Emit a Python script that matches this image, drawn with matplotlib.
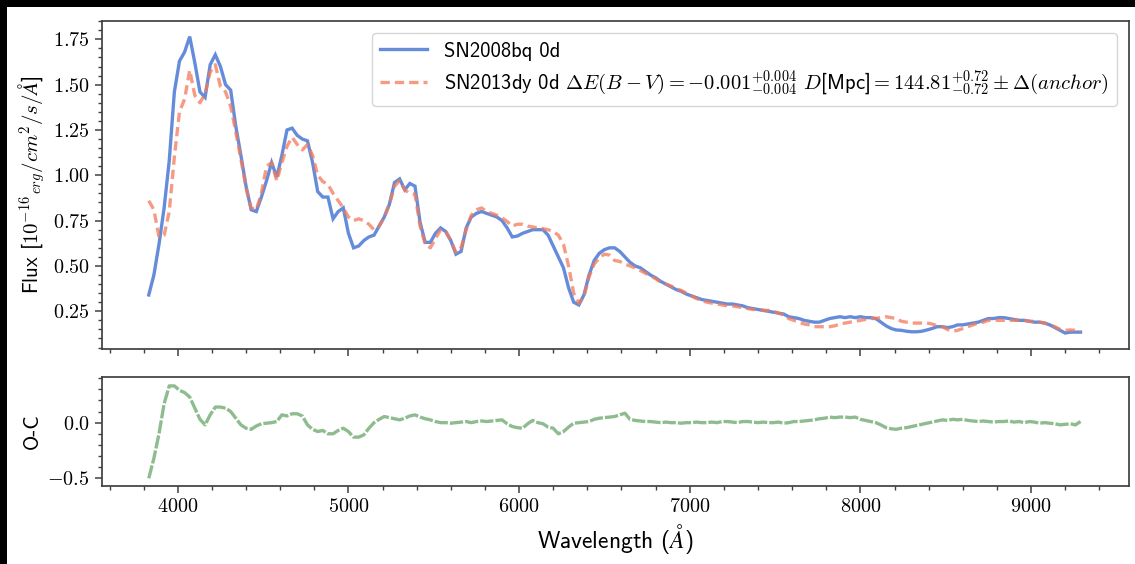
import numpy as np
import matplotlib
matplotlib.use("Agg")
import matplotlib.pyplot as plt
from matplotlib.ticker import MultipleLocator, FuncFormatter
from matplotlib.patches import Rectangle

# Spectra sampled on a regular wavelength grid (Angstrom)
wave_start = 3830
wave_step = 30

# SN2008bq 0d, flux in 1e-16 erg/cm^2/s/A
flux_2008bq = [
    0.34, 0.45, 0.62, 0.82, 1.08, 1.46, 1.63, 1.68, 1.765, 1.62,
    1.46, 1.43, 1.61, 1.665, 1.60, 1.50, 1.47, 1.27, 1.11, 0.94,
    0.81, 0.80, 0.88, 0.97, 1.07, 0.99, 1.11, 1.25, 1.26, 1.22,
    1.20, 1.19, 1.07, 0.91, 0.88, 0.88, 0.76, 0.80, 0.82, 0.68,
    0.60, 0.61, 0.64, 0.66, 0.67, 0.72, 0.77, 0.84, 0.96, 0.98,
    0.92, 0.955, 0.94, 0.74, 0.63, 0.63, 0.68, 0.71, 0.69, 0.64,
    0.565, 0.58, 0.71, 0.77, 0.79, 0.80, 0.79, 0.78, 0.77, 0.75,
    0.71, 0.66, 0.665, 0.68, 0.69, 0.70, 0.70, 0.70, 0.67, 0.61,
    0.55, 0.49, 0.38, 0.30, 0.285, 0.34, 0.45, 0.53, 0.57, 0.59,
    0.60, 0.60, 0.58, 0.55, 0.52, 0.50, 0.49, 0.47, 0.45, 0.435,
    0.415, 0.40, 0.385, 0.37, 0.36, 0.345, 0.335, 0.325, 0.315, 0.31,
    0.305, 0.30, 0.295, 0.29, 0.29, 0.285, 0.28, 0.27, 0.265, 0.26,
    0.255, 0.25, 0.245, 0.24, 0.235, 0.22, 0.215, 0.21, 0.20, 0.195,
    0.19, 0.19, 0.20, 0.21, 0.215, 0.22, 0.215, 0.22, 0.215, 0.22,
    0.215, 0.215, 0.21, 0.19, 0.17, 0.155, 0.147, 0.145, 0.14, 0.137,
    0.137, 0.14, 0.147, 0.155, 0.165, 0.165, 0.16, 0.165, 0.175, 0.175,
    0.18, 0.185, 0.19, 0.20, 0.21, 0.21, 0.215, 0.215, 0.21, 0.205,
    0.20, 0.20, 0.195, 0.19, 0.19, 0.185, 0.175, 0.16, 0.145, 0.13,
    0.135, 0.135, 0.135,
]

# SN2013dy 0d, fitted template
flux_2013dy = [
    0.86, 0.81, 0.66, 0.67, 0.80, 1.10, 1.35, 1.42, 1.58, 1.44,
    1.40, 1.45, 1.57, 1.61, 1.49, 1.46, 1.38, 1.24, 1.09, 0.93,
    0.82, 0.81, 0.90, 1.05, 1.07, 0.97, 1.07, 1.16, 1.21, 1.17,
    1.14, 1.17, 1.11, 1.00, 0.965, 0.95, 0.90, 0.86, 0.82, 0.77,
    0.75, 0.76, 0.75, 0.73, 0.70, 0.72, 0.77, 0.84, 0.94, 0.97,
    0.92, 0.90, 0.895, 0.72, 0.62, 0.60, 0.65, 0.70, 0.69, 0.64,
    0.575, 0.60, 0.70, 0.78, 0.81, 0.82, 0.80, 0.79, 0.78, 0.765,
    0.745, 0.72, 0.73, 0.73, 0.72, 0.715, 0.71, 0.705, 0.70, 0.69,
    0.67, 0.62, 0.50, 0.35, 0.295, 0.33, 0.44, 0.51, 0.545, 0.565,
    0.56, 0.53, 0.525, 0.51, 0.50, 0.49, 0.475, 0.46, 0.445, 0.43,
    0.41, 0.40, 0.39, 0.375, 0.365, 0.35, 0.335, 0.32, 0.31, 0.30,
    0.295, 0.29, 0.285, 0.28, 0.28, 0.275, 0.27, 0.265, 0.26, 0.26,
    0.255, 0.255, 0.25, 0.24, 0.23, 0.21, 0.20, 0.19, 0.18, 0.175,
    0.165, 0.165, 0.165, 0.165, 0.17, 0.18, 0.185, 0.19, 0.195, 0.20,
    0.205, 0.21, 0.21, 0.215, 0.22, 0.215, 0.21, 0.195, 0.19, 0.185,
    0.185, 0.185, 0.185, 0.18, 0.17, 0.165, 0.15, 0.14, 0.145, 0.155,
    0.165, 0.175, 0.185, 0.19, 0.20, 0.20, 0.20, 0.20, 0.20, 0.20,
    0.20, 0.20, 0.195, 0.195, 0.19, 0.185, 0.175, 0.165, 0.15, 0.145,
    0.147, 0.145, 0.135,
]

# Observed minus computed
o_minus_c = [
    -0.50, -0.32, -0.10, 0.17, 0.33, 0.33, 0.29, 0.27, 0.23, 0.13,
    0.03, -0.02, 0.07, 0.14, 0.14, 0.13, 0.10, 0.04, -0.02, -0.05,
    -0.06, -0.03, -0.01, -0.005, 0.0, 0.01, 0.07, 0.06, 0.08, 0.08,
    0.06, -0.02, -0.06, -0.08, -0.07, -0.10, -0.10, -0.07, -0.05, -0.08,
    -0.13, -0.13, -0.11, -0.05, 0.0, 0.03, 0.055, 0.045, 0.035, 0.025,
    0.04, 0.06, 0.07, 0.05, 0.035, 0.025, 0.01, 0.0, 0.0, -0.005,
    0.0, 0.005, 0.01, 0.0, 0.01, 0.015, 0.01, 0.015, 0.02, 0.025,
    -0.01, -0.035, -0.045, -0.05, -0.01, 0.02, 0.0, -0.01, -0.04, -0.05,
    -0.10, -0.08, -0.04, -0.005, 0.0, 0.005, 0.01, 0.03, 0.04, 0.045,
    0.05, 0.055, 0.07, 0.085, 0.03, 0.02, 0.015, 0.01, 0.01, 0.005,
    0.0, 0.005, 0.0, 0.0, -0.005, 0.0, 0.0, 0.005, 0.0, 0.0,
    0.005, 0.0, 0.01, 0.01, 0.005, 0.0, 0.01, 0.01, 0.005, 0.0,
    0.005, 0.0, 0.0, 0.005, -0.005, 0.0, 0.01, 0.01, 0.015, 0.02,
    0.025, 0.035, 0.04, 0.05, 0.045, 0.05, 0.05, 0.045, 0.05, 0.03,
    0.02, 0.01, 0.0, -0.02, -0.045, -0.055, -0.06, -0.05, -0.045, -0.035,
    -0.025, -0.015, -0.005, 0.005, 0.015, 0.025, 0.02, 0.03, 0.025, 0.03,
    0.02, 0.015, 0.01, 0.015, 0.01, 0.005, 0.01, 0.01, 0.015, 0.005,
    0.01, 0.0, 0.01, 0.005, -0.005, 0.0, -0.005, -0.01, -0.02, -0.015,
    -0.01, -0.02, 0.01,
]

label_2008bq = "SN2008bq 0d"
label_2013dy = (r"SN2013dy 0d $\Delta E(B-V) = -0.001^{+0.004}_{-0.004}$ "
                r"$D$[Mpc]$ = 144.81^{+0.72}_{-0.72} \pm \Delta(anchor)$")

wavelength = wave_start + wave_step * np.arange(len(flux_2008bq))

plt.rcParams["font.family"] = ["cmss10", "DejaVu Sans"]
plt.rcParams["mathtext.fontset"] = "cm"
plt.rcParams["axes.unicode_minus"] = False
plt.rcParams["axes.edgecolor"] = "0.25"
plt.rcParams["axes.linewidth"] = 1.25

W, H = 1135, 564
fig = plt.figure(figsize=(W / 100, H / 100), dpi=100)
fig.patch.set_facecolor("white")

ax1 = fig.add_axes([102 / W, 1 - 349 / H, 1027 / W, 328 / H])
ax2 = fig.add_axes([102 / W, 1 - 486 / H, 1027 / W, 109 / H])

blue = "#4a78d4"
salmon = "#f47a5a"
green = "#8fbc8f"

ax1.plot(wavelength, flux_2008bq, color=blue, lw=2.4, alpha=0.85,
         solid_joinstyle="miter", label=label_2008bq)
ax1.plot(wavelength, flux_2013dy, color=salmon, lw=2.4, alpha=0.75,
         ls=(0, (2.8, 1.5)), label=label_2013dy)
ax2.plot(wavelength, o_minus_c, color=green, lw=2.4, ls=(0, (4, 0.6)))

for ax in (ax1, ax2):
    ax.set_xlim(3556, 9574)
    ax.xaxis.set_major_locator(MultipleLocator(1000))
    ax.xaxis.set_minor_locator(MultipleLocator(200))
    ax.tick_params(which="major", direction="out", length=5, width=1.1,
                   color="0.25", labelsize=14.5, pad=4)
    ax.tick_params(which="minor", direction="out", length=3, width=1.0,
                   color="0.25")
    ax.xaxis.set_major_formatter(FuncFormatter(lambda v, p: f"${v:.0f}$"))

ax1.set_ylim(0.042, 1.851)
ax1.yaxis.set_major_locator(MultipleLocator(0.25))
ax1.yaxis.set_minor_locator(MultipleLocator(0.05))
ax1.yaxis.set_major_formatter(FuncFormatter(lambda v, p: f"${v:.2f}$"))
ax1.tick_params(labelbottom=False)

ax2.set_ylim(-0.569, 0.41)
ax2.yaxis.set_major_locator(MultipleLocator(0.5))
ax2.yaxis.set_minor_locator(MultipleLocator(0.1))
ax2.yaxis.set_major_formatter(FuncFormatter(lambda v, p: f"${v:.1f}$"))

ax1.set_ylabel(r"Flux [$10^{-16}{}_{erg}/cm^2/s/\AA$]", fontsize=15)
ax2.set_ylabel("O-C", fontsize=15)
ax2.set_xlabel(r"Wavelength ($\AA$)", fontsize=17)

ax1.legend(loc="upper right", fontsize=14.8, handlelength=2.3,
           labelspacing=0.4, borderaxespad=0.6,
           framealpha=0.8, edgecolor="0.8")

# dark frame along the top and left edges
fig.patches.append(Rectangle((0, 1 - 7 / H), 1, 7 / H, transform=fig.transFigure,
                             facecolor="black", edgecolor="none", zorder=10))
fig.patches.append(Rectangle((0, 0), 7 / W, 1, transform=fig.transFigure,
                             facecolor="black", edgecolor="none", zorder=10))

fig.savefig("out.png", dpi=100)
